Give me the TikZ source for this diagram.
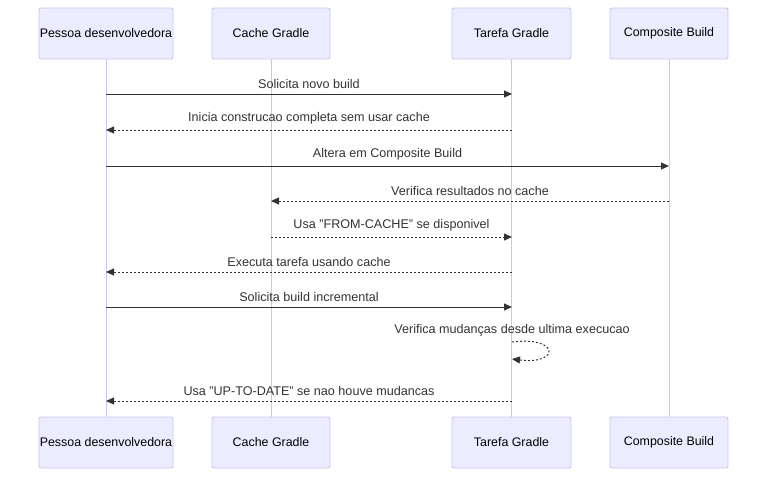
\documentclass[tikz,border=0pt]{standalone}
\usepackage{fontspec}
\setmainfont{Liberation Sans}
\usetikzlibrary{arrows.meta}
\definecolor{actfill}{HTML}{ECECFF}
\definecolor{actline}{HTML}{D0C2F2}
\definecolor{msgcol}{HTML}{333333}
\begin{document}
\begin{tikzpicture}[x=1pt,y=-1pt,
  actor/.style={draw=actline, fill=actfill, rounded corners=2pt, line width=0.9pt,
    minimum height=51pt, inner sep=0pt, font=\fontsize{12.4}{14}\selectfont, text=black},
  life/.style={draw=actline, line width=1pt},
  msg/.style={draw=msgcol, line width=1pt, -{Triangle[length=8pt,width=7pt]}},
  dmsg/.style={msg, dash pattern=on 2pt off 2pt},
  lbl/.style={font=\fontsize{12.6}{14}\selectfont, text=msgcol, inner sep=0pt}]
\useasboundingbox (0,0) rectangle (768,477);
% top actors
\node[actor, minimum width=134pt] (pA) at (106,33.5) {Pessoa desenvolvedora};
\node[actor, minimum width=118pt] (pB) at (271,33.5) {Cache Gradle};
\node[actor, minimum width=119pt] (pC) at (511.5,33.5) {Tarefa Gradle};
\node[actor, minimum width=118pt] (pD) at (669,33.5) {Composite Build};
% bottom actors
\node[actor, minimum width=134pt] (qA) at (106,442.5) {Pessoa desenvolvedora};
\node[actor, minimum width=118pt] (qB) at (271,442.5) {Cache Gradle};
\node[actor, minimum width=119pt] (qC) at (511.5,442.5) {Tarefa Gradle};
\node[actor, minimum width=118pt] (qD) at (669,442.5) {Composite Build};
% lifelines
\draw[life] (pA.south) -- (qA.north);
\draw[life] (pB.south) -- (qB.north);
\draw[life] (pC.south) -- (qC.north);
\draw[life] (pD.south) -- (qD.north);
% message coordinates
\coordinate (a1) at (106,94);  \coordinate (c1) at (512,94);
\coordinate (a2) at (106,130); \coordinate (c2) at (512,130);
\coordinate (a3) at (106,166); \coordinate (d3) at (669,166);
\coordinate (b4) at (271,201); \coordinate (d4) at (669,201);
\coordinate (b5) at (271,237); \coordinate (c5) at (512,237);
\coordinate (a6) at (106,272); \coordinate (c6) at (512,272);
\coordinate (a7) at (106,307); \coordinate (c7) at (512,307);
\coordinate (c8) at (512,342); \coordinate (c8e) at (512,359);
\coordinate (a9) at (106,401); \coordinate (c9) at (512,401);
% messages
\draw[msg] (a1) -- (c1);
\node[lbl] (l1) at (309,83.5) {Solicita novo build};
\draw[dmsg] (c2) -- (a2);
\node[lbl] (l2) at (309,118.5) {Inicia construcao completa sem usar cache};
\draw[msg] (a3) -- (d3);
\node[lbl] (l3) at (387.5,154.5) {Altera em Composite Build};
\draw[dmsg] (d4) -- (b4);
\node[lbl] (l4) at (470,190.5) {Verifica resultados no cache};
\draw[dmsg] (b5) -- (c5);
\node[lbl] (l5) at (391.5,225.5) {Usa \symbol{34}FROM-CACHE\symbol{34} se disponivel};
\draw[dmsg] (c6) -- (a6);
\node[lbl] (l6) at (309,261.5) {Executa tarefa usando cache};
\draw[msg] (a7) -- (c7);
\node[lbl] (l7) at (309,296.5) {Solicita build incremental};
\draw[dmsg] (c8) .. controls (560,336) and (560,365) .. (c8e);
\node[lbl] (l8) at (512,330.5) {Verifica mudanças desde ultima execucao};
\draw[dmsg] (c9) -- (a9);
\node[lbl] (l9) at (309,390.5) {Usa \symbol{34}UP-TO-DATE\symbol{34} se nao houve mudancas};
\end{tikzpicture}
\end{document}
